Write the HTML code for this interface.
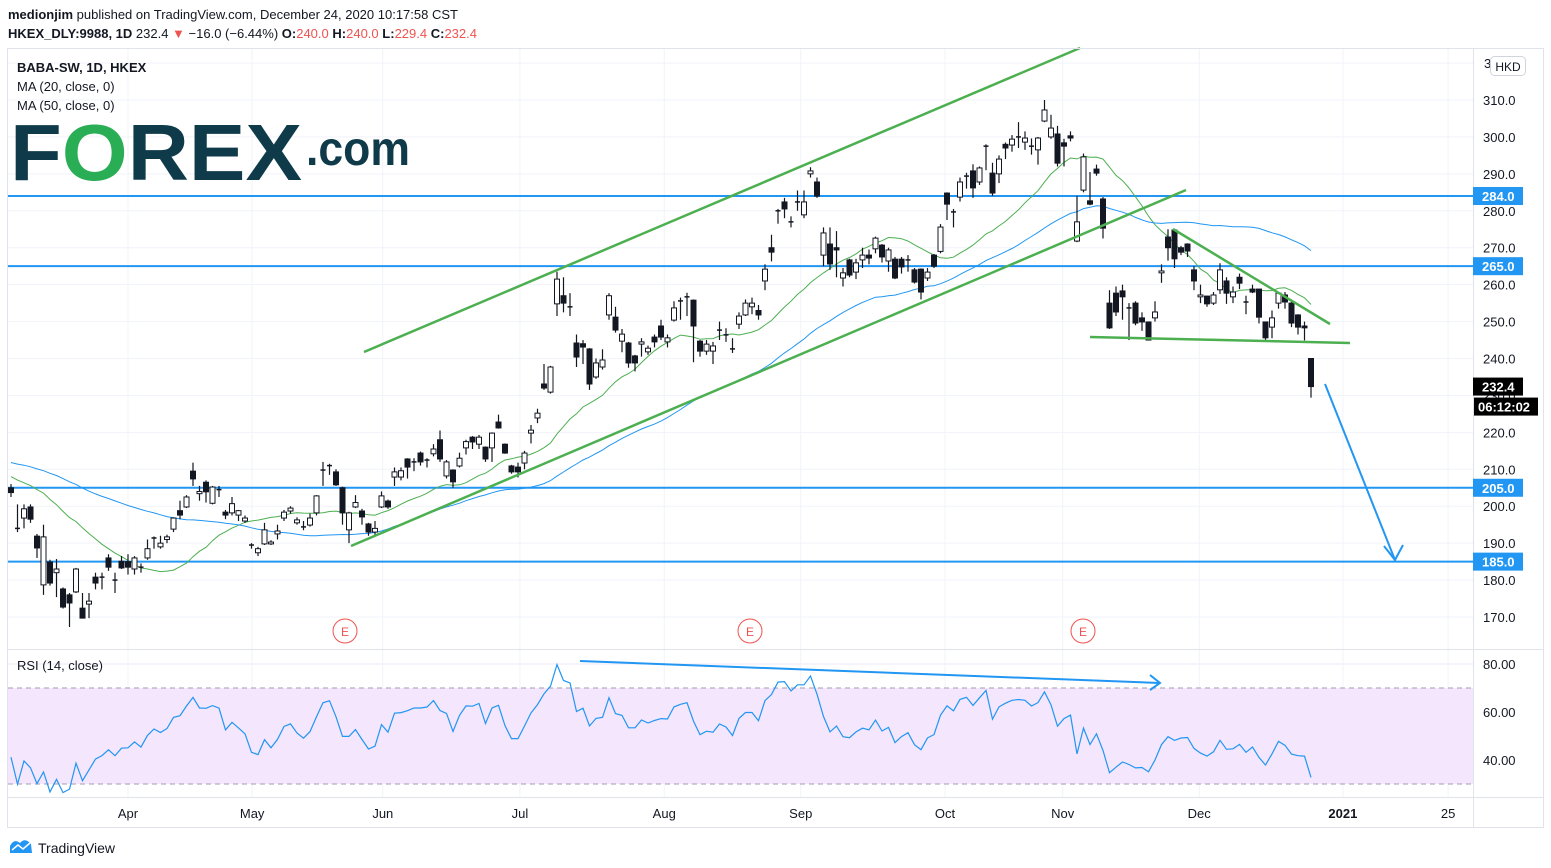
<!DOCTYPE html>
<html><head><meta charset="utf-8"><style>
html,body{margin:0;padding:0;background:#fff;}
svg{display:block;font-family:"Liberation Sans",sans-serif;}
</style></head><body>
<svg id="c" width="1551" height="868" viewBox="0 0 1551 868" xmlns="http://www.w3.org/2000/svg">
<rect x="0" y="0" width="1551" height="868" fill="#fff"/>
<text x="8" y="19" font-size="13" fill="#131722"><tspan font-weight="bold">medionjim</tspan> published on TradingView.com, December 24, 2020 10:17:58 CST</text>
<text x="8" y="38" font-size="13" fill="#131722"><tspan font-weight="bold">HKEX_DLY:9988, 1D</tspan> 232.4 <tspan fill="#ef5350">▼</tspan> −16.0 (−6.44%) <tspan font-weight="bold">O:</tspan><tspan fill="#ef5350">240.0</tspan> <tspan font-weight="bold">H:</tspan><tspan fill="#ef5350">240.0</tspan> <tspan font-weight="bold">L:</tspan><tspan fill="#ef5350">229.4</tspan> <tspan font-weight="bold">C:</tspan><tspan fill="#ef5350">232.4</tspan></text>
<g id="grid"></g>
<rect x="8" y="688" width="1465" height="96" fill="#f3e6fd"/>
<line x1="8" x2="1473" y1="688" y2="688" stroke="#a59cb0" stroke-dasharray="5,4"/>
<line x1="8" x2="1473" y1="784" y2="784" stroke="#a59cb0" stroke-dasharray="5,4"/>
<g id="levels"></g>
<g id="mas"></g>
<g id="candles"></g>
<g stroke="#4caf50" stroke-width="2.5" fill="none">
<line x1="364" y1="352" x2="1080" y2="48"/>
<line x1="351" y1="546" x2="1186" y2="190"/>
<line x1="1090" y1="337" x2="1350" y2="343"/>
<line x1="1173" y1="229" x2="1330" y2="324"/>
</g>
<g stroke="#2196f3" stroke-width="2" fill="none">
<line x1="1325" y1="384" x2="1395" y2="560"/>
<polyline points="1384,546 1395,560 1403,545"/>
</g>
<g id="rsi"></g>
<g stroke="#2196f3" stroke-width="2" fill="none">
<line x1="580" y1="661" x2="1160" y2="683"/>
<polyline points="1150,675 1160,683 1150,690"/>
</g>
<g font-size="12" fill="#ef5350" text-anchor="middle">
<circle cx="345" cy="631" r="12" fill="#fff" stroke="#ef5350"/><text x="345" y="636">E</text>
<circle cx="750" cy="631" r="12" fill="#fff" stroke="#ef5350"/><text x="750" y="636">E</text>
<circle cx="1083" cy="631" r="12" fill="#fff" stroke="#ef5350"/><text x="1083" y="636">E</text>
</g>
<text x="17" y="72" font-size="13" font-weight="bold" fill="#131722">BABA-SW, 1D, HKEX</text>
<text x="17" y="91" font-size="13" fill="#131722">MA (20, close, 0)</text>
<text x="17" y="110" font-size="13" fill="#131722">MA (50, close, 0)</text>
<text x="17" y="670" font-size="13" fill="#131722">RSI (14, close)</text>
<g>
<text x="10" y="180" font-size="80" font-weight="bold" fill="#0e3a4a" textLength="292" lengthAdjust="spacingAndGlyphs">F<tspan fill="#2aae55">O</tspan>REX</text>
<text x="306" y="165" font-size="48" font-weight="bold" fill="#0e3a4a" textLength="104" lengthAdjust="spacingAndGlyphs">.com</text>
</g>
<line x1="8" x2="1543" y1="649.5" y2="649.5" stroke="#e0e3eb"/>
<line x1="8" x2="1543" y1="797.5" y2="797.5" stroke="#e0e3eb"/>
<line x1="1473.5" x2="1473.5" y1="48" y2="828" stroke="#e0e3eb"/>
<rect x="7.5" y="48.5" width="1536" height="779" fill="none" stroke="#e0e3eb"/>
<g id="yaxis" font-size="13" fill="#131722"></g>
<g id="xaxis" font-size="13" fill="#131722" text-anchor="middle"></g>
<text x="1484" y="68" font-size="13" fill="#131722">3</text>
<rect x="1490.5" y="56.5" width="35" height="19" rx="4" fill="#fff" stroke="#d1d4dc"/>
<text x="1508" y="71" font-size="12" fill="#131722" text-anchor="middle">HKD</text>
<g id="tags" font-size="13" font-weight="bold"></g>
<g>
<path d="M10 853 L10 846 Q14 838 20 843 Q25 837 31 844 L32 853 Z" fill="#2196f3"/>
<polyline points="12,850 18,845 23,849 30,843" stroke="#fff" stroke-width="1.5" fill="none"/>
<text x="38" y="853" font-size="14" fill="#131722">TradingView</text>
</g>
</svg>
<script>
const opens=[205,194,196.8,199.8,191.9,178.7,184.9,182,177.6,176,176.8,172.4,173.5,180.8,180.8,186,180,185.1,185,183,183.5,186,191.4,189,191,193.8,198.8,199.8,209.5,203.4,206.5,200.8,204.5,198.4,198.2,197.6,196,189.5,187.4,189.8,189.8,192.5,196.8,198.7,195.5,194.4,194.9,198.2,209.8,211,209.3,205,193.6,199.8,198.7,195.2,193,199.8,201.4,207.9,207.9,212.8,212,214.4,212.5,214.2,218,208.2,209.8,210.9,215.8,218.7,216.8,216,215.8,222.8,216.8,210.9,210.6,211.7,219.8,223.9,233.1,230.9,254.8,257,254,244.2,244,242.6,235,237.7,251.8,251.2,244.7,244.2,240.7,243.9,241.8,245.8,248.8,244.5,250.4,255.6,256.7,255.8,244.7,242,242,247.7,246.4,242.6,249.3,251.8,254,253,261,270,279.7,282.4,277,282.4,278.9,290,287.8,268,271,270,261.8,266.7,263.4,266.7,268,269.7,270.7,266.4,266.9,266.9,266.7,264,264.2,261.8,268,269,284.8,279.7,283.7,289.4,290.8,287.8,297.5,290.2,290,298,297.8,300,298.6,297.5,296.5,304.3,300,300.8,298.4,300.3,271.8,285.6,282.7,291.3,283.2,255,257.7,258.3,253.4,255,251,249.9,251,263.2,272.9,274.8,270,271,264,256.7,256.9,255,258.6,261,256.7,262,255.3,258.8,258.8,249.9,248.5,255,257.2,255,251.8,248.8,240];
const closes=[203.7,194,199.3,196.5,188.7,191.7,179.2,183,172.7,173.8,183,169.7,174.3,179.2,180.8,183.5,180,183.3,183.5,186,183.5,188.5,191.4,190,191.7,196.8,197.6,202.5,207.4,204,203.9,205.2,204.5,197.6,200.7,198.8,196.8,189.5,188.5,193.6,190.3,193.3,198.4,199.5,196.3,194.4,196.8,202.8,209.8,211,205.8,198.2,198.2,201,197.1,193,194,202.8,199.8,209.3,209.6,210.6,212,212,212.5,215.5,212.8,212,206.6,213,217.5,217.4,218.7,212.8,219.8,221.2,214.4,209.3,209.3,214.4,220.6,225.2,232,237.7,261.5,255,254,240.4,243.1,233.1,238.8,239.6,257,247.7,246.6,238.8,238.8,244.5,242.8,244.5,245.8,245.6,253.7,255.6,256.7,248.8,242,243.9,243.4,247.7,246.4,242.6,251.5,255,255,251.8,264.2,268.8,280,280.5,277,282.4,282.4,290.8,284,274,265.6,269.4,263.2,262.6,265.9,268,267.2,272.6,267.5,269.4,261.8,264.8,266.7,260.7,258,263.4,265,275.6,281.8,279.7,287.8,289.4,286.2,291.6,297.5,284.8,294,297,299.4,300,299.7,297.5,299.7,307.3,302.4,292.9,297.5,299.7,277,294.6,281.8,290.2,275.3,248.3,252.6,256.7,253.7,249.6,249.9,245,252.6,263.7,270,267,268.8,269.1,261,257.2,254.8,257.2,264,257.7,258,260.4,255.3,258,251.2,245.6,251,257.7,255.3,249.6,248.5,248.3,232.4];
const highs=[206,200.5,200.5,200.5,192.5,195,185.5,185.7,178,176.5,183.3,176.5,176.5,182,182,187,182,186.5,187,186.5,184.5,191,191.8,192,192.3,197,201.5,203,211.8,205.5,207,205.5,205.5,199,202.5,199,197.5,190,189,195.5,190.8,195,199,200,197,196,198,203,212,211.5,210,205.3,198.5,203,199.3,195.5,196,204,201.8,210.5,210.5,213,213,214.8,213,216.8,220.5,212.5,210,214.5,218,219,219.3,216.2,220,224.8,217,211.2,211.8,215,222,226.4,238.5,238,263.5,262,257.7,246.5,245,242.8,240,242.5,257.7,254,248,244.5,241,245.5,243.5,246.5,250.5,246.5,255.5,256.5,257.8,256,245,245,244.5,250,248.2,245.5,252.5,256,256.5,254.5,265.5,273.5,280.5,283.5,278.5,285.5,285.5,291.8,289,275.5,275.5,274.5,264.5,267,267,270,269.5,273,271,270,267.5,267.5,268,264.5,264.4,264.5,268.3,276.4,285,280.5,289,290.3,292.6,292,298,293,295,298.5,300.5,304,301.5,299.6,300,310,306,303,299.5,301.5,284,295.5,290.5,292.5,283.7,258.5,259.5,260,255,255.5,252.5,250,255.5,265.5,275,275,270.5,271.2,265,260,257,258,265.8,262,259.5,263,257,260,258.9,250,253,258,258,255.3,252,250,240];
const lows=[202.5,193,194,195.5,186,176,178.5,175.4,172.3,167.3,176.5,169.7,169.7,177.5,177.5,182.5,176.5,183,181.5,181.5,182,185.5,188.5,188.5,190,193,196.5,199.5,205.5,201.5,201,200.5,202.5,196.5,197.5,196,195.5,188.5,186.5,189.5,189.5,191,196,198,195,193.5,194.5,197.5,205.5,208.5,205.5,195,190,199.5,195,192,192,199.5,199.3,205.5,207,207.5,209.5,211,210.5,213.5,212,207.5,205,210.5,214,215.5,215.5,212,212,221,214.2,208.8,207.8,210,217,222.5,231.5,230.5,251.5,252.5,251.5,237.7,238.5,231.5,234.5,237,250.5,247,241.7,237.5,236.5,240.5,241,243,245,243,250,250.5,251.5,239,240.5,241,238.5,245,244.5,241.5,248,251.5,252,250.5,258.5,266.3,276.5,278,275.5,280,278,289,283.5,265,264,262,259.5,262,261.5,264.5,265.5,268.5,266,263.5,261.5,263,263.5,260.3,256,261,264.5,268.5,277.5,275.5,282.5,286,283.5,287,291,284,287.5,294,296,297,296.5,295.2,292.5,304,299.5,292,292,298.8,271.5,285,281.5,289.5,272.5,248,251.5,250.5,245,249,247.5,245,250,260.5,266.5,264.5,268,267.5,258.5,255,254,254.5,257.5,254.8,255,258.8,252,257.7,249.5,244.8,245.5,253.5,253.5,248.5,246.5,244.9,229.4];
const priorCloses=[214,216,215,217,218,216,214,213,215,217,218,219,217,216,214,213,212,214,215,213,211,212,214,215,216,214,212,213,211,210,212,213,214,212,210,211,213,212,209,207,205,203,206,208,210,207,204,202,205,206];
const priceTicks=[170,180,190,200,210,220,230,240,250,260,270,280,290,300,310];
const rsiTicks=[80,60,40];
const levelPrices=[284,265,205,185];
const monthLabels=["Apr","May","Jun","Jul","Aug","Sep","Oct","Nov","Dec","2021","25"];
const monthBarIdx=[18,37.1,57.2,78.3,100.5,121.5,143.7,161.8,182.8,204.9,221.1];

const NS="http://www.w3.org/2000/svg";
const yP=p=>100+(310-p)*3.693;
const yR=r=>664+(80-r)*2.4;
const xB=i=>11+i*6.5;
function mk(tag,attrs,parent){const e=document.createElementNS(NS,tag);for(const k in attrs)e.setAttribute(k,attrs[k]);parent.appendChild(e);return e;}
const grid=document.getElementById('grid');
priceTicks.concat([320]).forEach(p=>{const l=mk('line',{x1:8,x2:1473,y1:yP(p),y2:yP(p),stroke:'#f0f3fa'},grid);

});
rsiTicks.forEach(r=>{const l=mk('line',{x1:8,x2:1473,y1:yR(r),y2:yR(r),stroke:'#ece8f5'},grid);

});
monthBarIdx.forEach(i=>{const l=mk('line',{x1:xB(i),x2:xB(i),y1:48,y2:797,stroke:'#f0f3fa'},grid);

});
const lv=document.getElementById('levels');
levelPrices.forEach(p=>{const l=mk('line',{x1:8,x2:1473,y1:yP(p),y2:yP(p),stroke:'#2196f3','stroke-width':2},lv);

});
const all=priorCloses.concat(closes);const off=priorCloses.length;
function ma(n){const pts=[];for(let i=0;i<closes.length;i++){let s=0;for(let k=0;k<n;k++)s+=all[off+i-k];pts.push(xB(i).toFixed(1)+','+yP(s/n).toFixed(1));}return pts.join(' ');}
const mg=document.getElementById('mas');
const m20=mk('polyline',{points:ma(20),fill:'none',stroke:'#4caf50','stroke-width':1},mg);


const m50=mk('polyline',{points:ma(50),fill:'none',stroke:'#2196f3','stroke-width':1},mg);


const cg=document.getElementById('candles');
for(let i=0;i<closes.length;i++){
 const x=xB(i),o=opens[i],c=closes[i];
 const g=mk('g',{},cg);
 
 
 const top=yP(Math.max(o,c)),bot=yP(Math.min(o,c));
 mk('line',{x1:x,x2:x,y1:yP(highs[i]),y2:yP(lows[i]),stroke:'#131722','stroke-width':1.2},g);
 const up=c>o;
 if(Math.abs(bot-top)<1.2){mk('line',{x1:x-2.5,x2:x+2.5,y1:top,y2:top,stroke:'#131722','stroke-width':1.5},g);}
 else mk('rect',{x:x-2.5,y:top,width:5,height:bot-top,fill:up?'#fff':'#131722',stroke:'#131722','stroke-width':1},g);
}
let ag=0,al=0;const rp=[];
for(let k=1;k<=14;k++){const d=all[k]-all[k-1];if(d>0)ag+=d;else al-=d;}ag/=14;al/=14;
for(let k=15;k<all.length;k++){const d=all[k]-all[k-1];ag=(ag*13+Math.max(d,0))/14;al=(al*13+Math.max(-d,0))/14;
 if(k>=off){const r=al===0?100:100-100/(1+ag/al);rp.push(xB(k-off).toFixed(1)+','+yR(r).toFixed(1));}}
const rl=mk('polyline',{points:rp.join(' '),fill:'none',stroke:'#2196f3','stroke-width':1.2},document.getElementById('rsi'));


const ya=document.getElementById('yaxis');
priceTicks.forEach(p=>{const t=mk('text',{x:1483,y:yP(p)+5},ya);t.textContent=p.toFixed(1);

});
rsiTicks.forEach(r=>{const t=mk('text',{x:1483,y:yR(r)+5},ya);t.textContent=r.toFixed(2);

});
const xa=document.getElementById('xaxis');
monthLabels.forEach((m,j)=>{const t=mk('text',{x:xB(monthBarIdx[j]),y:818},xa);t.textContent=m;if(m==='2021')t.setAttribute('font-weight','bold');

});
const tg=document.getElementById('tags');
levelPrices.forEach(p=>{const y=yP(p);const r=mk('rect',{x:1473,y:y-9,width:50,height:18,fill:'#2196f3'},tg);


const t=mk('text',{x:1482,y:y+5,fill:'#fff'},tg);t.textContent=p.toFixed(1);});
const last=closes[closes.length-1];const ly=yP(last);
const lr=mk('rect',{x:1473,y:ly-9,width:50,height:18,fill:'#000'},tg);


const lt=mk('text',{x:1482,y:ly+5,fill:'#fff'},tg);lt.textContent=last.toFixed(1);
const cr=mk('rect',{x:1474,y:ly+11,width:64,height:18,fill:'#000'},tg);


const ct=mk('text',{x:1478,y:ly+25,fill:'#fff'},tg);ct.textContent='06:12:02';
</script>
</body></html>
